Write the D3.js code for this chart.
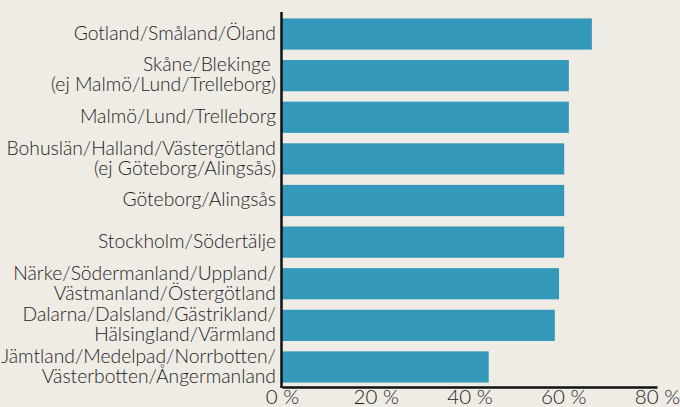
<!DOCTYPE html>
<html>
<head>
<meta charset="utf-8">
<script src="https://cdn.jsdelivr.net/npm/d3@7"></script>
<style>
  html, body { margin: 0; padding: 0; background: #efebe5; }
  svg { display: block; }
  text { font-family: "Lato", "Open Sans", sans-serif; font-weight: 300; fill: #1e1e1e; }
</style>
</head>
<body>
<div id="chart"></div>
<script>
// Regions (each entry is the lines of the label)
const regions = [
  ["Gotland/Småland/Öland"],
  ["Skåne/Blekinge ", "(ej Malmö/Lund/Trelleborg)"],
  ["Malmö/Lund/Trelleborg"],
  ["Bohuslän/Halland/Västergötland", "(ej Göteborg/Alingsås)"],
  ["Göteborg/Alingsås"],
  ["Stockholm/Södertälje"],
  ["Närke/Södermanland/Uppland/", "Västmanland/Östergötland"],
  ["Dalarna/Dalsland/Gästrikland/", "Hälsingland/Värmland"],
  ["Jämtland/Medelpad/Norrbotten/", "Västerbotten/Ångermanland"]
];

// Share in percent
const values = [66.1, 61.2, 61.2, 60.2, 60.2, 60.2, 59.1, 58.2, 44.1];

const xTicks = [0, 20, 40, 60, 80];

const width = 680;
const height = 407;

const svg = d3.select('#chart')
  .append('svg')
  .attr('width', width)
  .attr('height', height);

const x = d3.scaleLinear()
  .domain([0, 80])
  .range([282, 657]);

const y = d3.scaleBand()
  .domain(d3.range(regions.length))
  .range([13, 388])
  .paddingInner(0.25)
  .paddingOuter(0.13);

// Bars
svg.append('g')
  .selectAll('rect')
  .data(values)
  .join('rect')
  .attr('x', x(0))
  .attr('y', (d, i) => y(i))
  .attr('width', d => x(d) - x(0))
  .attr('height', y.bandwidth())
  .attr('fill', '#3498bb');

// Category labels
const lineHeight = 20;
const labels = svg.append('g')
  .selectAll('text')
  .data(regions)
  .join('text')
  .attr('text-anchor', 'end')
  .attr('font-size', 19.3)
  .attr('xml:space', 'preserve')
  .style('white-space', 'pre')
  .attr('transform', (d, i) => `translate(276,${y(i) + y.bandwidth() / 2 - 1})`);

labels.selectAll('tspan')
  .data(d => d.map((line, j) => ({ line, j, n: d.length })))
  .join('tspan')
  .attr('x', 0)
  .attr('y', d => (d.j - (d.n - 1) / 2) * lineHeight)
  .attr('dy', '0.35em')
  .text(d => d.line);

// Axes
const xAxis = svg.append('g')
  .attr('transform', 'translate(0,387)')
  .call(d3.axisBottom(x).tickValues(xTicks).tickSize(0).tickPadding(2).tickFormat(d => d + ' %'));

xAxis.select('.domain')
  .attr('stroke', '#111')
  .attr('stroke-width', 2.5);

xAxis.selectAll('text')
  .attr('font-size', 20.5)
  .attr('font-family', 'Lato, sans-serif')
  .attr('font-weight', 300)
  .attr('fill', '#1e1e1e');

svg.append('line')
  .attr('x1', 281.5)
  .attr('x2', 281.5)
  .attr('y1', 12)
  .attr('y2', 388)
  .attr('stroke', '#111')
  .attr('stroke-width', 2.5);
</script>
</body>
</html>
